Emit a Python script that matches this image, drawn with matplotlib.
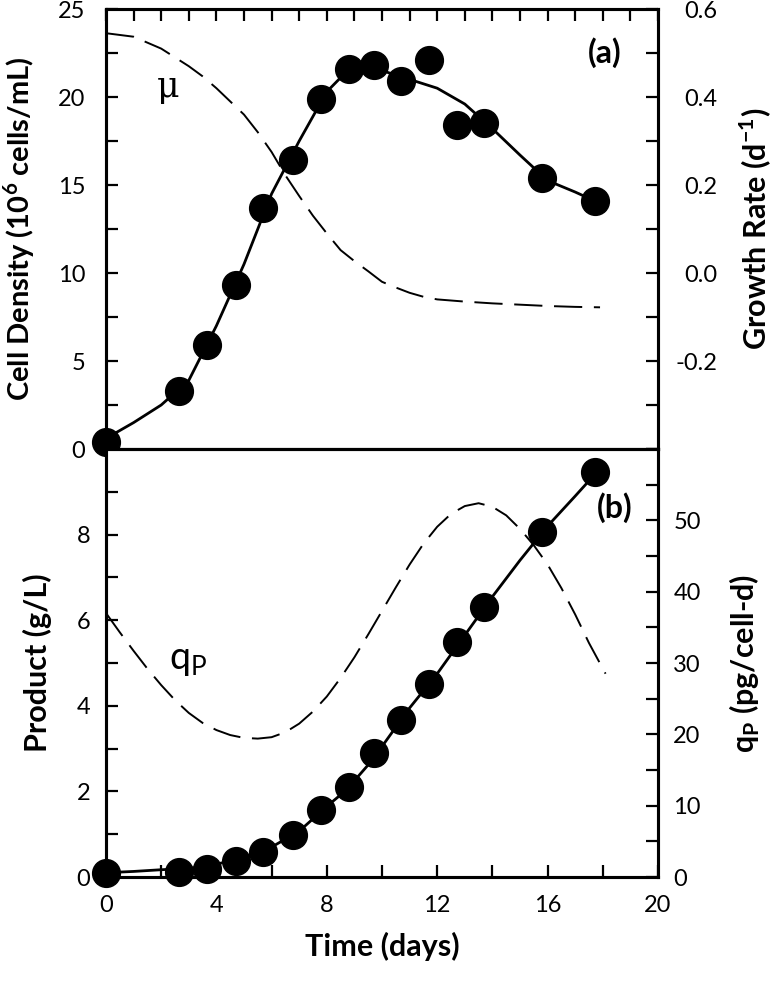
import matplotlib
matplotlib.use('Agg')
import matplotlib.pyplot as plt
from matplotlib.ticker import MultipleLocator, FixedLocator, FormatStrFormatter

plt.rcParams['font.family'] = ['Lato', 'DejaVu Sans']
plt.rcParams['mathtext.fontset'] = 'custom'
plt.rcParams['mathtext.rm'] = 'Lato'
plt.rcParams['mathtext.bf'] = 'Lato:bold'
plt.rcParams['axes.unicode_minus'] = False

# measured points (same sampling days for both panels)
day_pts = [0, 2.65, 3.67, 4.72, 5.7, 6.77, 7.8, 8.8, 9.7, 10.7, 11.7, 12.7, 13.7, 15.8, 17.7]
density_pts = [0.4, 3.3, 5.9, 9.3, 13.7, 16.4, 19.9, 21.6, 21.8, 20.9, 22.1, 18.4, 18.5, 15.4, 14.1]
product_pts = [0.1, 0.12, 0.19, 0.38, 0.59, 0.98, 1.57, 2.1, 2.9, 3.67, 4.5, 5.5, 6.3, 8.05, 9.47]

# fitted curves
fit_day = [0, 1, 2, 3, 4, 5, 6, 7, 8, 8.5, 9, 9.5, 10, 11, 12, 13, 14, 15, 16, 17, 17.7]
density_fit = [0.6, 1.5, 2.5, 3.9, 7.0, 10.5, 14.5, 17.5, 20.3, 21.1, 21.6, 21.7, 21.5,
               21.0, 20.5, 19.6, 18.2, 16.7, 15.25, 14.6, 14.1]
product_fit = [0.1, 0.13, 0.17, 0.2, 0.3, 0.45, 0.7, 1.07, 1.65, 1.92, 2.25, 2.62, 3.05,
               3.95, 4.75, 5.65, 6.55, 7.4, 8.2, 8.9, 9.4]

mu_day = [0, 1, 2, 3, 3.5, 4, 4.5, 5, 5.5, 6, 6.5, 7, 7.5, 8, 8.5, 9, 9.5, 10, 10.5,
          11, 11.5, 12, 13, 14, 15, 16, 17, 17.9]
mu = [0.545, 0.537, 0.51, 0.47, 0.447, 0.42, 0.39, 0.36, 0.32, 0.275, 0.222, 0.175,
      0.13, 0.09, 0.052, 0.027, 0.004, -0.02, -0.033, -0.045, -0.054, -0.06, -0.065,
      -0.069, -0.072, -0.075, -0.077, -0.078]

qp_day = [0, 0.5, 1, 1.5, 2, 2.5, 3, 3.5, 4, 4.5, 5, 5.5, 6, 6.5, 7, 7.5, 8, 8.5, 9,
          9.5, 10, 10.5, 11, 11.5, 12, 12.5, 13, 13.5, 14, 14.5, 15, 15.5, 16, 16.5,
          17, 17.5, 18.1]
qp = [37.0, 34.3, 31.7, 29.2, 26.9, 24.8, 23.0, 21.6, 20.6, 19.9, 19.5, 19.4, 19.6,
      20.3, 21.5, 23.2, 25.3, 27.9, 30.8, 34.0, 37.3, 40.6, 43.8, 46.7, 49.1, 50.9,
      52.0, 52.4, 51.9, 50.7, 48.8, 46.5, 43.8, 40.5, 36.8, 32.8, 28.5]

fig = plt.figure(figsize=(7.76, 9.81), dpi=100)
left, width = 106 / 776, 552 / 776
ax1 = fig.add_axes([left, 532 / 981, width, 440 / 981])
ax2 = fig.add_axes([left, 104 / 981, width, 428 / 981])
ax1r = ax1.twinx()
ax2r = ax2.twinx()

mk = dict(marker='o', ms=20, color='black', lw=0, clip_on=False, zorder=5)
dash = dict(color='black', lw=1.4, dashes=(14.5, 6))

# panel (a)
ax1.plot(fit_day, density_fit, color='black', lw=2.0, zorder=4)
ax1.plot(day_pts, density_pts, **mk)
ax1r.plot(mu_day, mu, **dash)

# panel (b)
ax2.plot(fit_day, product_fit, color='black', lw=2.0, zorder=4)
ax2.plot(day_pts, product_pts, **mk)
ax2r.plot(qp_day, qp, **dash)

for ax in (ax1, ax2, ax1r, ax2r):
    ax.set_xlim(0, 20)
    for s in ax.spines.values():
        s.set_linewidth(2.2)

tk = dict(direction='in', length=8.5, width=1.6, labelsize=17)
lab = dict(fontsize=22, fontweight='bold')

ax1.set_ylim(0, 25)
ax1.yaxis.set_major_locator(MultipleLocator(5))
ax1.yaxis.set_minor_locator(MultipleLocator(2.5))
ax1.tick_params(axis='y', which='both', pad=15, **tk)
ax1.xaxis.set_major_locator(MultipleLocator(1))
ax1.tick_params(axis='x', which='both', top=True, bottom=False,
                labelbottom=False, labeltop=False, **tk)
ax1.set_ylabel('Cell Density (10$^{\\mathbf{6}}$ cells/mL)', fontsize=21, fontweight='bold')
ax1.yaxis.set_label_coords(-0.125, 0.5)

ax1r.set_ylim(-0.4, 0.6)
ax1r.yaxis.set_major_locator(FixedLocator([-0.2, 0.0, 0.2, 0.4, 0.6]))
ax1r.yaxis.set_minor_locator(MultipleLocator(0.1))
ax1r.yaxis.set_major_formatter(FormatStrFormatter('%.1f'))
ax1r.tick_params(axis='y', which='both', pad=43, **tk)
plt.setp(ax1r.get_yticklabels(), ha='right')
ax1r.set_ylabel('Growth Rate (d$^{\\mathbf{-1}}$)', **lab)
ax1r.yaxis.set_label_coords(1.143, 0.5)

ax2.set_ylim(0, 10)
ax2.yaxis.set_major_locator(FixedLocator([0, 2, 4, 6, 8]))
ax2.yaxis.set_minor_locator(MultipleLocator(1))
ax2.tick_params(axis='y', which='both', pad=11.5, **tk)
ax2.xaxis.set_major_locator(MultipleLocator(4))
ax2.xaxis.set_minor_locator(MultipleLocator(2))
ax2.tick_params(axis='x', which='both', pad=13, **tk)
ax2.set_ylabel('Product (g/L)', **lab)
ax2.yaxis.set_label_coords(-0.098, 0.5)
ax2.set_xlabel('Time (days)', **lab)
ax2.xaxis.set_label_coords(0.5, -0.128)
ax2.xaxis.label.set_va('top')

ax2r.set_ylim(0, 60)
ax2r.yaxis.set_major_locator(FixedLocator([0, 10, 20, 30, 40, 50]))
ax2r.yaxis.set_minor_locator(MultipleLocator(5))
ax2r.tick_params(axis='y', which='both', pad=11, **tk)
ax2r.set_ylabel('q$_{\\mathbf{P}}$ (pg/cell-d)', **lab)
ax2r.yaxis.set_label_coords(1.127, 0.5)

ax1.text(0.904, 0.902, '(a)', transform=ax1.transAxes, fontsize=23,
         fontweight='bold', ha='center', va='center')
ax2.text(0.922, 0.864, '(b)', transform=ax2.transAxes, fontsize=23,
         fontweight='bold', ha='center', va='center')
ax1.text(0.112, 0.823, '\u03bc', transform=ax1.transAxes, fontsize=25,
         family='DejaVu Serif', ha='center', va='center')
ax2.text(0.149, 0.507, 'q$_\\mathrm{P}$', transform=ax2.transAxes, fontsize=27,
         ha='center', va='center')

fig.savefig('out.png', dpi=100)
